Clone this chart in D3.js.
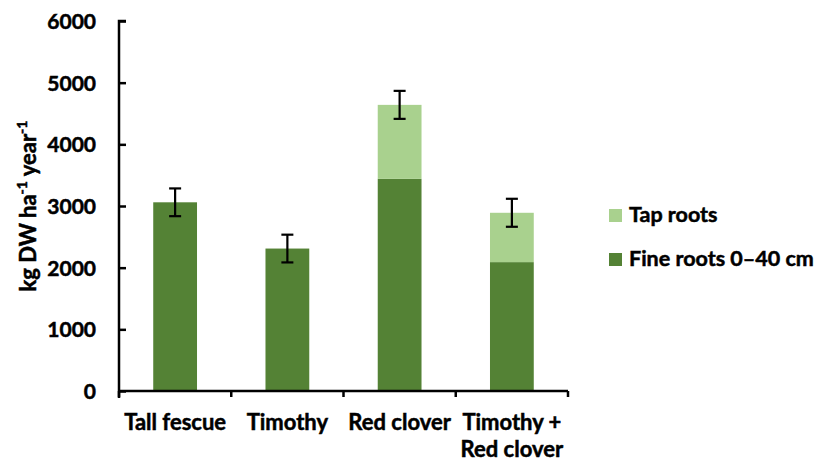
<!DOCTYPE html>
<html lang="en">
<body style="margin:0;background:#fff">
<script src="https://d3js.org/d3.v7.min.js"></script>
<script>
// data
const categories = ["Tall fescue", "Timothy", "Red clover", "Timothy + Red clover"];
const catLines = [["Tall fescue"], ["Timothy"], ["Red clover"], ["Timothy +", "Red clover"]];
const fineRoots = [3060, 2310, 3440, 2090];
const tapRoots = [0, 0, 1200, 800];
const errors = [225, 225, 227, 227];
const yTicks = [0, 1000, 2000, 3000, 4000, 5000, 6000];
const seriesNames = ["Tap roots", "Fine roots 0\u201340 cm"];
const colors = { fine: "#548235", tap: "#a9d18e" };

const W = 817, H = 462;
const pLeft = 119, pRight = 568, pTop = 21, pBottom = 391;
const font = "Lato, 'Open Sans', sans-serif";

const svg = d3.select("body").append("svg").attr("width", W).attr("height", H)
  .style("font-family", font).style("font-weight", "bold");

const x = d3.scaleBand().domain(categories).range([pLeft, pRight]).paddingInner(0.61).paddingOuter(0.305);
const y = d3.scaleLinear().domain([0, 6000]).range([pBottom, pTop]);

// bars
const g = svg.append("g");
categories.forEach((c, i) => {
  g.append("rect").attr("x", x(c)).attr("width", x.bandwidth())
    .attr("y", y(fineRoots[i])).attr("height", y(0) - y(fineRoots[i]))
    .attr("fill", colors.fine);
  if (tapRoots[i] > 0) {
    g.append("rect").attr("x", x(c)).attr("width", x.bandwidth())
      .attr("y", y(fineRoots[i] + tapRoots[i])).attr("height", y(fineRoots[i]) - y(fineRoots[i] + tapRoots[i]))
      .attr("fill", colors.tap);
  }
  // error bar
  const cx = x(c) + x.bandwidth() / 2;
  const tot = fineRoots[i] + tapRoots[i];
  const eb = g.append("g").attr("stroke", "#000").attr("stroke-width", 2.2);
  eb.append("line").attr("x1", cx).attr("x2", cx).attr("y1", y(tot + errors[i])).attr("y2", y(tot - errors[i]));
  eb.append("line").attr("x1", cx - 6).attr("x2", cx + 6).attr("y1", y(tot + errors[i])).attr("y2", y(tot + errors[i]));
  eb.append("line").attr("x1", cx - 6).attr("x2", cx + 6).attr("y1", y(tot - errors[i])).attr("y2", y(tot - errors[i]));
});

// heavier text, closer to the original bold face
function heavy(sel) {
  return sel.attr("stroke", "#000").attr("stroke-width", 0.5).attr("fill", "#000");
}

// y axis
const yAxis = svg.append("g").attr("transform", `translate(${pLeft},0)`)
  .call(d3.axisRight(y).tickValues(yTicks).tickSize(7).tickFormat(d3.format("d")));
yAxis.select(".domain").attr("d", `M7,${pTop}H0V${pBottom + 7}`).attr("stroke-width", 2.5);
yAxis.selectAll(".tick line").attr("stroke-width", 2.5);
heavy(yAxis.selectAll(".tick text").attr("x", -23).attr("dy", "0.36em").attr("text-anchor", "end")
  .attr("font-size", 21).attr("font-family", font).attr("font-weight", "bold"));

// x axis
const bounds = categories.map(c => x(c) - x.step() * x.paddingInner() / 2).concat([pRight]);
const xa = svg.append("g");
xa.append("line").attr("x1", pLeft).attr("x2", pRight).attr("y1", pBottom).attr("y2", pBottom)
  .attr("stroke", "#000").attr("stroke-width", 2.5);
bounds.forEach(b => {
  xa.append("line").attr("x1", b).attr("x2", b).attr("y1", pBottom).attr("y2", pBottom + 6)
    .attr("stroke", "#000").attr("stroke-width", 2.5);
});
categories.forEach((c, i) => {
  const t = heavy(xa.append("text").attr("x", x(c) + x.bandwidth() / 2).attr("y", 430)
    .attr("text-anchor", "middle").attr("font-size", 22));
  catLines[i].forEach((ln, j) => {
    t.append("tspan").attr("x", x(c) + x.bandwidth() / 2).attr("dy", j === 0 ? 0 : 27).text(ln);
  });
});

// y title
const yt = heavy(svg.append("text").attr("transform", "translate(36,206) rotate(-90)")
  .attr("text-anchor", "middle").attr("font-size", 22));
yt.append("tspan").text("kg DW ha");
yt.append("tspan").attr("font-size", 14).attr("dy", -9).text("-1");
yt.append("tspan").attr("dy", 9).text(" year");
yt.append("tspan").attr("font-size", 14).attr("dy", -9).text("-1");

// legend
const legend = svg.append("g");
[[seriesNames[0], colors.tap, 209], [seriesNames[1], colors.fine, 253]].forEach(([name, col, ly]) => {
  legend.append("rect").attr("x", 609).attr("y", ly).attr("width", 13).attr("height", 13).attr("fill", col);
  heavy(legend.append("text").attr("x", 629).attr("y", ly + 13).attr("font-size", 21.5).text(name));
});
</script>
</body>
</html>
